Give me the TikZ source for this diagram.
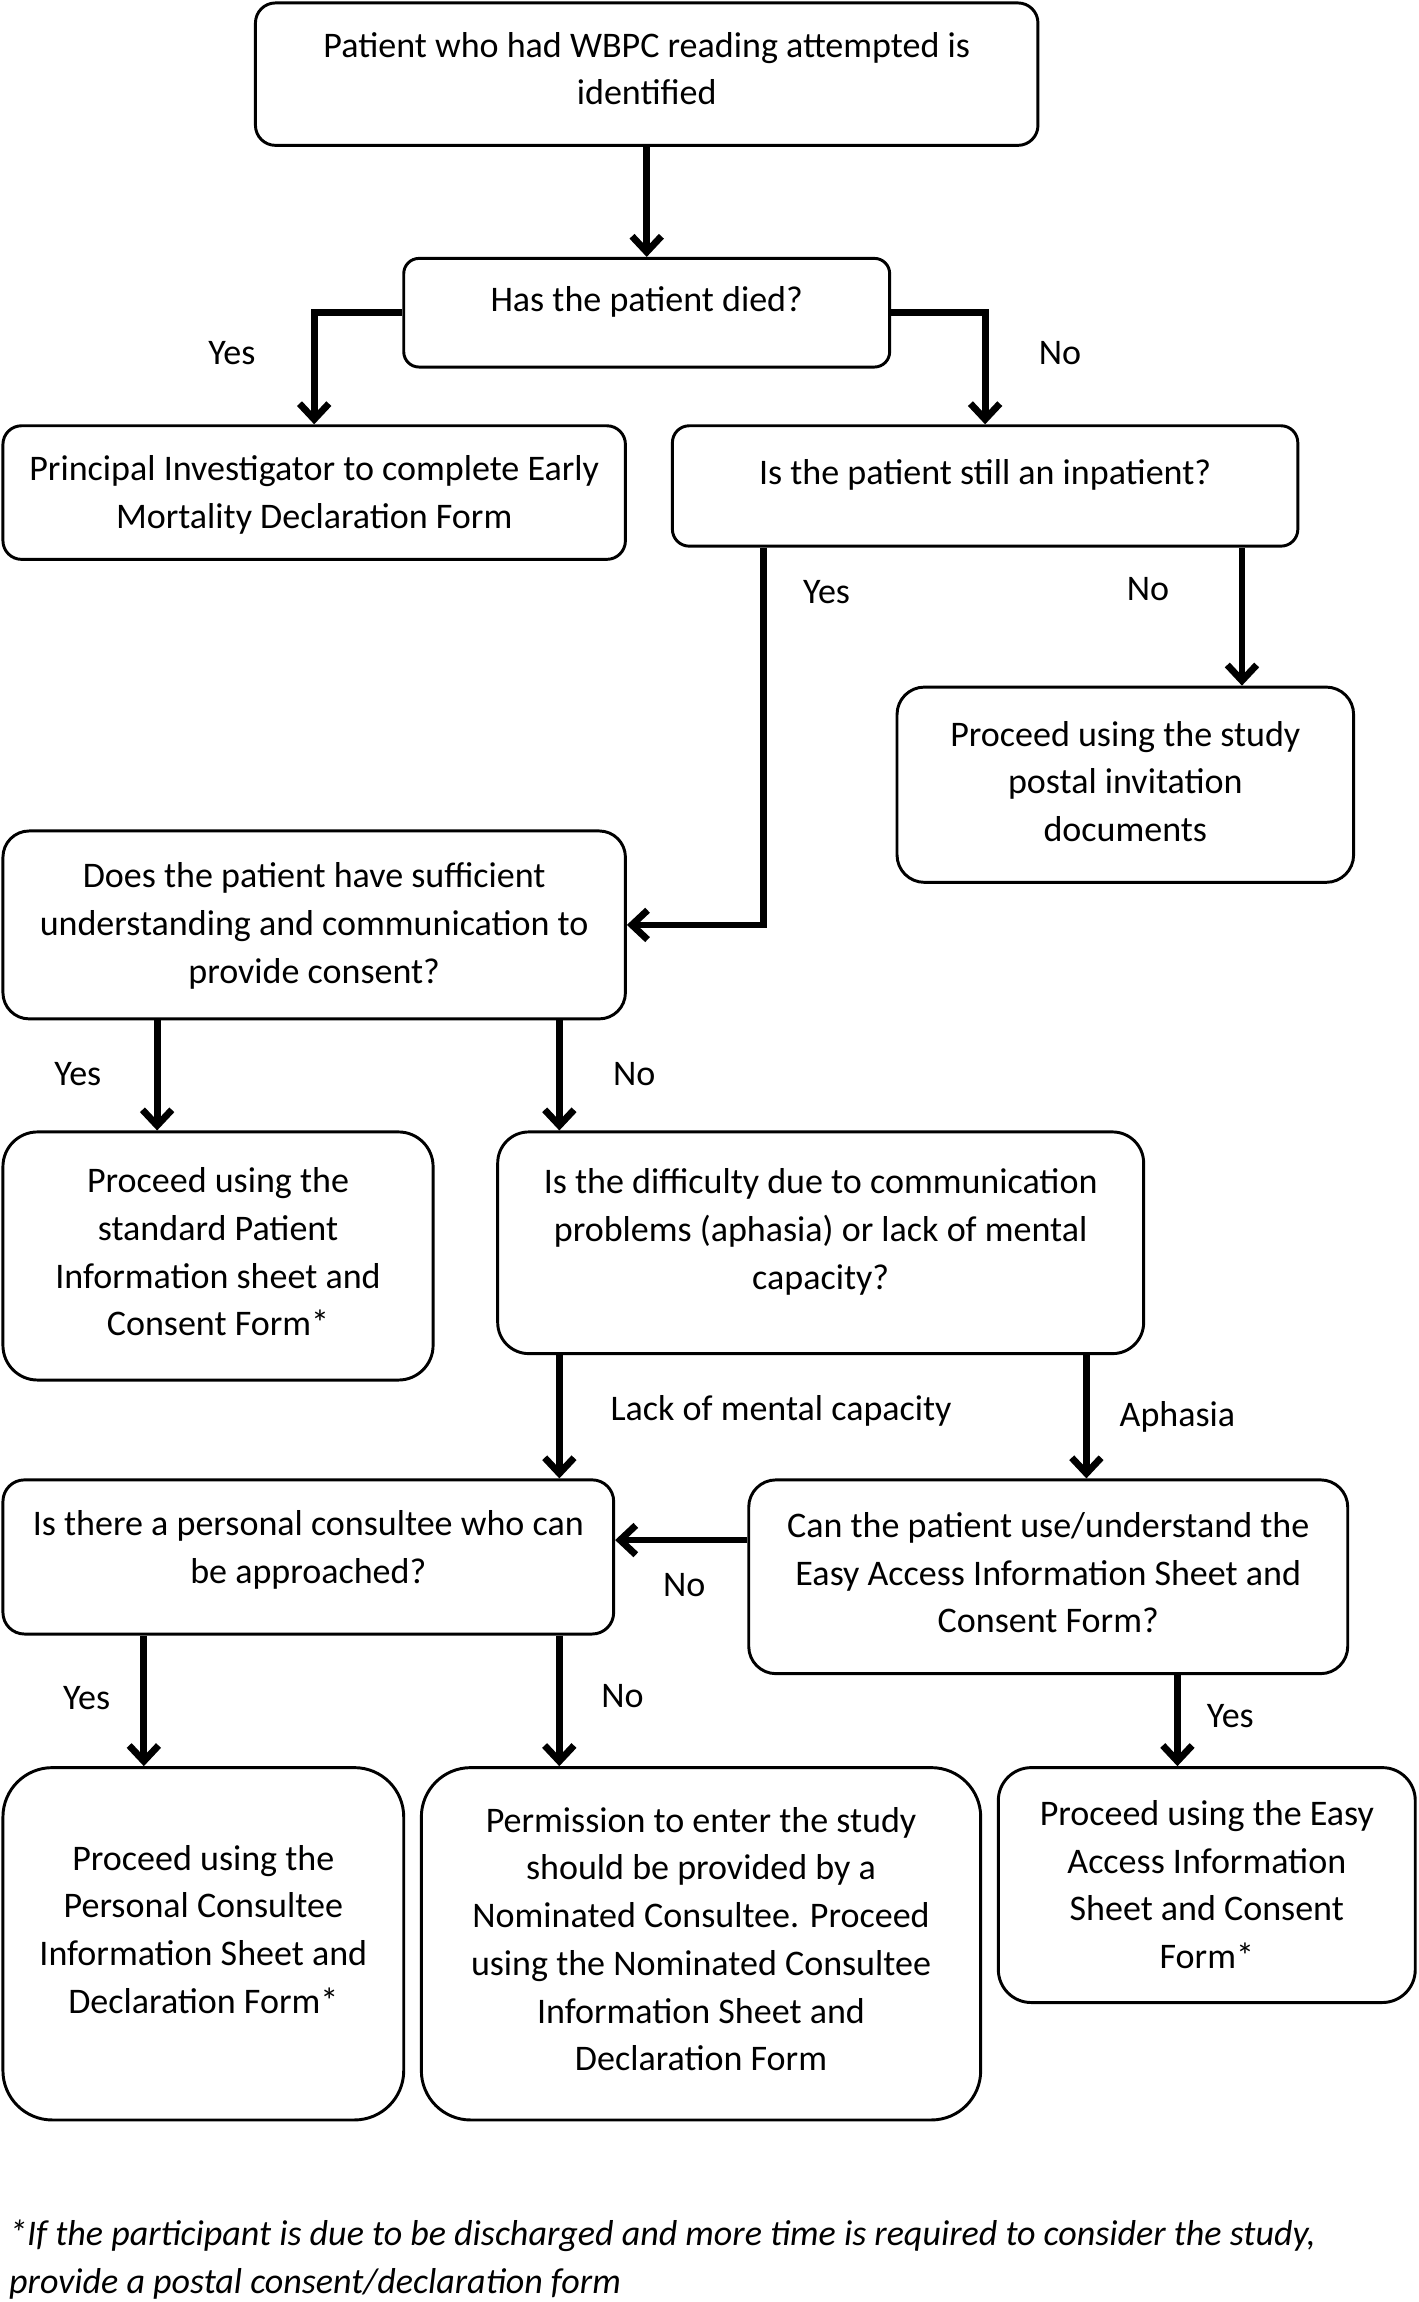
\documentclass[tikz,border=0pt]{standalone}
\usepackage{fontspec}
\setmainfont{Carlito}
\usetikzlibrary{arrows.meta,positioning}

\begin{document}
\begin{tikzpicture}
  [x=0.75pt,y=-0.75pt,
   font=\fontsize{18.4}{24.4}\selectfont,
   box/.style={rectangle,draw,line width=1.5pt,align=center,inner sep=0pt,text depth=0.5pt},
   lbl/.style={inner sep=0pt,text height=17.5pt,text depth=5pt},
   arr/.style={line width=3.5pt,-{Straight Barb[length=8pt,width=15pt]}}]
  \useasboundingbox (0,0) rectangle (966,1568);
  \node[box,minimum width=399.75pt,minimum height=72.75pt,rounded corners=10.2pt,text depth=5.75pt] (start) at (440.5,50.5) {Patient who had WBPC reading attempted is\\identified};
  \node[box,minimum width=248.25pt,minimum height=55.5pt,rounded corners=7.8pt,text depth=14pt] (died) at (440.5,213) {Has the patient died?};
  \node[box,minimum width=318pt,minimum height=68.25pt,rounded corners=9.5pt] (pi_form) at (214,335.5) {Principal Investigator to complete Early\\Mortality Declaration Form};
  \node[box,minimum width=319.5pt,minimum height=61.5pt,rounded corners=8.6pt,text depth=14pt] (inpatient) at (671,331) {Is the patient still an inpatient?};
  \node[box,minimum width=233.25pt,minimum height=99.75pt,rounded corners=14pt,text depth=3.5pt] (postal) at (766.5,534.5) {Proceed using the study\\postal invitation\\documents};
  \node[box,minimum width=318pt,minimum height=96pt,rounded corners=13.4pt,text depth=2pt] (sufficient) at (214,630) {Does the patient have sufficient\\understanding and communication to\\provide consent?};
  \node[box,minimum width=219.75pt,minimum height=126.75pt,rounded corners=17.7pt,text depth=4.25pt] (standard) at (148.5,855.5) {Proceed using the\\standard Patient\\Information sheet and\\Consent Form*};
  \node[box,minimum width=330pt,minimum height=113.25pt,rounded corners=15.9pt,text depth=14pt] (difficulty) at (559,846.5) {Is the difficulty due to communication\\problems (aphasia) or lack of mental\\capacity?};
  \node[box,minimum width=312pt,minimum height=78.75pt,rounded corners=11pt,text depth=10.25pt] (consultee) at (210,1060.5) {Is there a personal consultee who can\\be approached?};
  \node[box,minimum width=306pt,minimum height=99pt,rounded corners=13.9pt,text depth=4.25pt] (easy_q) at (714,1074) {Can the patient use/understand the\\Easy Access Information Sheet and\\Consent Form?};
  \node[box,minimum width=204.75pt,minimum height=180pt,rounded corners=25.2pt,text depth=14.75pt] (personal) at (138.5,1324) {Proceed using the\\Personal Consultee\\Information Sheet and\\Declaration Form*};
  \node[box,minimum width=285.75pt,minimum height=180pt,rounded corners=25.2pt,text depth=5pt] (nominated) at (477.5,1324) {Permission to enter the study\\should be provided by a\\Nominated Consultee. Proceed\\using the Nominated Consultee\\Information Sheet and\\Declaration Form};
  \node[box,minimum width=213pt,minimum height=120pt,rounded corners=16.8pt] (easy_p) at (822,1284) {Proceed using the Easy\\Access Information\\Sheet and Consent\\Form*};
  \node[lbl] (l_died_yes) at (158,240) {Yes};
  \node[lbl] (l_died_no) at (722,240) {No};
  \node[lbl] (l_inp_yes) at (563,403) {Yes};
  \node[lbl] (l_inp_no) at (782,401) {No};
  \node[lbl] (l_suf_yes) at (53,731) {Yes};
  \node[lbl] (l_suf_no) at (432,731) {No};
  \node[lbl] (l_lack) at (532,959) {Lack of mental capacity};
  \node[lbl] (l_aphasia) at (802,963) {Aphasia};
  \node[lbl] (l_easy_no) at (466,1079) {No};
  \node[lbl] (l_con_yes) at (59,1156) {Yes};
  \node[lbl] (l_con_no) at (424,1155) {No};
  \node[lbl] (l_easy_yes) at (838,1168) {Yes};
  \node[anchor=west,align=left,inner sep=0pt,font=\fontsize{18.4}{24.4}\selectfont\itshape] (note) at (6,1539) {*If the participant is due to be discharged and more time is required to consider the study,\\provide a postal consent/declaration form};
  \draw [arr] (start.south) -- (died.north);
  \draw [arr] (died.west) -| (pi_form.north);
  \draw [arr] (died.east) -| (inpatient.north);
  \draw [arr] ([xshift=-113.25pt]inpatient.south) |- (sufficient.east);
  \draw [arr] ([xshift=59.6pt]postal.north |- inpatient.south) -- ([xshift=59.6pt]postal.north);
  \draw [arr] ([xshift=-31.1pt]standard.north |- sufficient.south) -- ([xshift=-31.1pt]standard.north);
  \draw [arr] ([xshift=-133.5pt]difficulty.north |- sufficient.south) -- ([xshift=-133.5pt]difficulty.north);
  \draw [arr] ([xshift=128.25pt]consultee.north |- difficulty.south) -- ([xshift=128.25pt]consultee.north);
  \draw [arr] ([xshift=19.5pt]easy_q.north |- difficulty.south) -- ([xshift=19.5pt]easy_q.north);
  \draw [arr] ([yshift=18.75pt]easy_q.west) -- ([yshift=18.75pt]easy_q.west -| consultee.east);
  \draw [arr] ([xshift=-30.4pt]personal.north |- consultee.south) -- ([xshift=-30.4pt]personal.north);
  \draw [arr] ([xshift=-72.4pt]nominated.north |- consultee.south) -- ([xshift=-72.4pt]nominated.north);
  \draw [arr] ([xshift=-15pt]easy_p.north |- easy_q.south) -- ([xshift=-15pt]easy_p.north);
\end{tikzpicture}
\end{document}
